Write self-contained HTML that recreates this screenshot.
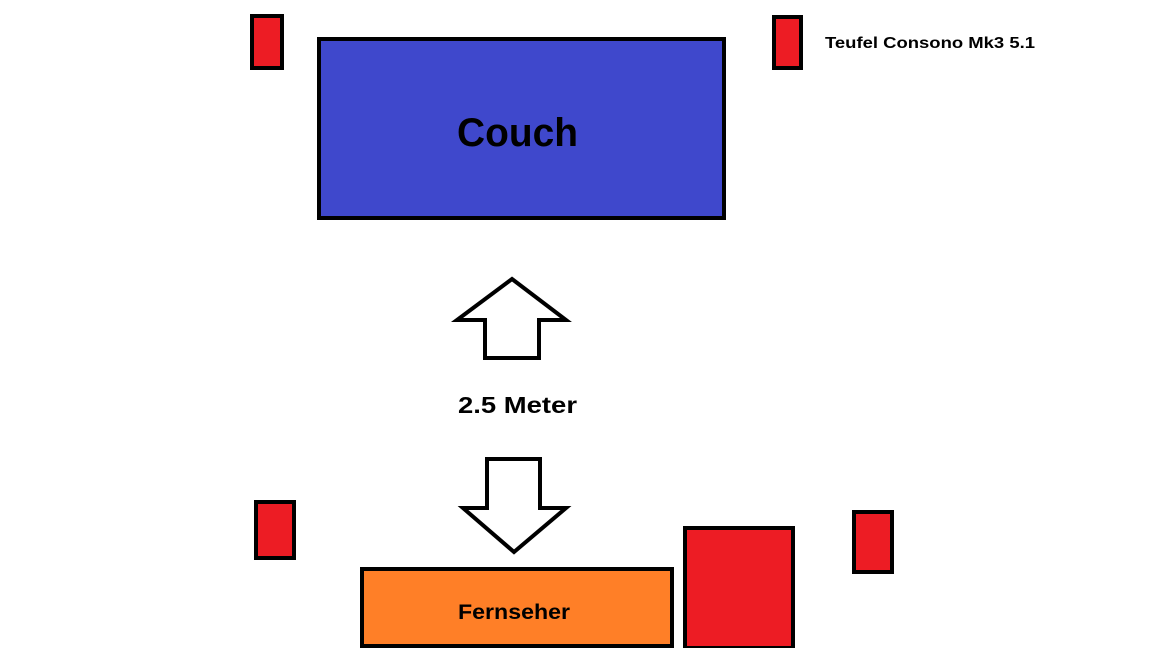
<!DOCTYPE html>
<html><head><style>body{margin:0;background:#fff}svg{display:block}</style></head><body>
<svg width="1152" height="648" viewBox="0 0 1152 648" xmlns="http://www.w3.org/2000/svg" font-family="Liberation Sans, DejaVu Sans, sans-serif" font-weight="bold">
<g stroke="#000" stroke-width="4">
<rect x="252" y="16" width="30" height="52" fill="#ed1c24"/>
<rect x="774" y="17" width="27" height="51" fill="#ed1c24"/>
<rect x="319" y="39" width="405" height="179" fill="#3f48cc"/>
<rect x="256" y="502" width="38" height="56" fill="#ed1c24"/>
<rect x="854" y="512" width="38" height="60" fill="#ed1c24"/>
<rect x="685" y="528" width="108" height="120" fill="#ed1c24"/>
<rect x="362" y="569" width="310" height="77" fill="#ff7f27"/>
<polygon points="512,279 566,320 539,320 539,358 485,358 485,320 457,320" fill="#fff"/>
<polygon points="487,459 540,459 540,508 566,508 514,552 463,508 487,508" fill="#fff"/>
</g>
<text x="457" y="146" font-size="40" textLength="121" lengthAdjust="spacingAndGlyphs" fill="#000">Couch</text>
<text x="458" y="413" font-size="23" textLength="119" lengthAdjust="spacingAndGlyphs" fill="#000">2.5 Meter</text>
<text x="458" y="619" font-size="21" textLength="112" lengthAdjust="spacingAndGlyphs" fill="#000">Fernseher</text>
<text x="825" y="48" font-size="16" textLength="210" lengthAdjust="spacingAndGlyphs" fill="#000">Teufel Consono Mk3 5.1</text>
</svg>
</body></html>
